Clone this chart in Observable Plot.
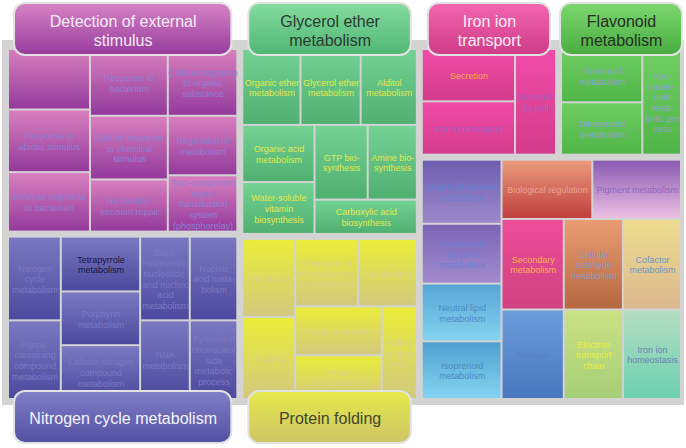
<!DOCTYPE html>
<html><head><meta charset="utf-8">
<script src="https://cdn.jsdelivr.net/npm/d3@7"></script>
<script src="https://cdn.jsdelivr.net/npm/@observablehq/plot@0.6"></script>
<style>body{margin:0;background:#fff}#chart svg{display:block}</style>
</head><body><div id="chart"></div>
<script>
// ---------- data ----------
const detectionLabels = ["", "Response to\nabiotic stimulus", "Defense response\nto bacterium",
  "Response to\nbacterium", "Cellular response\nto chemical\nstimulus", "Nucleotide-\nexcision repair",
  "Cellular response\nto organic\nsubstance", "Regulation of\nmetabolism",
  "Two-component\nsignal\ntransduction\nsystem\n(phosphorelay)"];
const detectionValues = [4582, 4740, 4503, 4800, 4575, 3750, 4288, 3819, 3618];
const detectionTiling = ["h", ["v", 0, 1, 2], ["v", 3, 4, 5], ["v", 6, 7, 8]];

const nitrogenLabels = ["Nitrogen\ncycle\nmetabolism", "Purine-\ncontaining\ncompound\nmetabolism",
  "Tetrapyrrole\nmetabolism", "Porphyrin\nmetabolism", "Cellular nitrogen\ncompound\nmetabolism",
  "Base,\nnucleoside,\nnucleotide,\nand nucleic\nacid\nmetabolism", "RNA\nmetabolism",
  "Nucleic\nacid meta-\nbolism", "Pyrimidine\nribonucleo-\nside\nmetabolic\nprocess"];
const nitrogenValues = [4100, 3850, 4028, 3952, 3952, 3854, 3619, 3690, 3465];
const nitrogenTiling = ["h", ["v", 0, 1], ["v", 2, 3, 4], ["v", 5, 6], ["v", 7, 8]];

const glycerolLabels = ["Organic ether\nmetabolism", "Glycerol ether\nmetabolism", "Alditol\nmetabolism",
  "Organic acid\nmetabolism", "Water-soluble\nvitamin\nbiosynthesis", "GTP bio-\nsynthesis",
  "Amine bio-\nsynthesis", "Carboxylic acid\nbiosynthesis"];
const glycerolValues = [4104, 4248, 3960, 3834, 3479, 3692, 3408, 3264];
const glycerolTiling = ["v", ["h", 0, 1, 2], ["h", ["v", 3, 4], ["v", ["h", 5, 6], 7]]];

const proteinLabels = ["Translation", "Folding", "Response to\nunfolded protein\nas chaperone",
  "Localization", "Protein maturation", "Protein\nbiosynthesis", "Killing\nof other\ncells"];
const proteinValues = [3850, 4050, 3960, 3696, 3948, 3528, 3036];
const proteinTiling = ["h", ["v", 0, 1], ["v", ["h", 2, 3], ["h", ["v", 4, 5], 6]]];

const ironLabels = ["Secretion", "Iron ion transport", "Secretion\nby cell"];
const ironValues = [4664, 4752, 4142];
const ironTiling = ["h", ["v", 0, 1], 2];

const flavonoidLabels = ["Flavonoid\nmetabolism", "Diterpenoid\nmetabolism",
  "Apo-\ncarote-\nnoid\nmeta-\nbolic pro\ncess"];
const flavonoidValues = [4158, 4081, 3924];
const flavonoidTiling = ["h", ["v", 0, 1], 2];

// single-term clusters (no header)
const singleNames = ["Organophosphate catabolism", "Phosphatidylglycerol metabolism", "Neutral lipid metabolism",
  "Isoprenoid metabolism", "Biological regulation", "Pigment metabolism", "Secondary metabolism",
  "Cellular aldehyde metabolism", "Cofactor metabolism", "Nitrogen", "Electron transport chain",
  "Iron ion homeostasis"];
const singleLabels = ["Organophosphate\ncatabolism", "Phosphatidyl\nglycerol\nmetabolism", "Neutral lipid\nmetabolism",
  "Isoprenoid\nmetabolism", "Biological regulation", "Pigment metabolism", "Secondary\nmetabolism",
  "Cellular\naldehyde\nmetabolism", "Cofactor\nmetabolism", "Nitrogen", "Electron\ntransport\nchain",
  "Iron ion\nhomeostasis"];
const singleValues = [4680, 4368, 4212, 4212, 4928, 4816, 5160, 4902, 4816, 5100, 4845, 4760];

const groupNames = ["Detection of external stimulus", "Nitrogen cycle metabolism", "Glycerol ether metabolism",
  "Protein folding", "Iron ion transport", "Flavonoid metabolism"];
const headerLabels = ["Detection of external\nstimulus", "Nitrogen cycle metabolism", "Glycerol ether\nmetabolism",
  "Protein folding", "Iron ion\ntransport", "Flavonoid\nmetabolism"];

// top-level arrangement (g = group index, s = single index)
const topTiling = ["h", ["v", "g0", "g1"], ["v", "g2", "g3"],
  ["v", ["h", "g4", "g5"],
        ["h", ["v", "s0", "s1", "s2", "s3"],
              ["v", ["h", "s4", "s5"], ["h", ["v", "s6", "s9"], ["v", "s7", "s10"], ["v", "s8", "s11"]]]]]];

// ---------- styles ----------
const styles = {
  "Detection of external stimulus": {c: ["#d77fbe", "#953a9c"], t: "#8d80d2", h: ["#d683c4", "#973b9d"], ht: "#f6ecf6"},
  "Nitrogen cycle metabolism": {c: ["#7a78c1", "#4d499e"], t: "#7b79c3", h: ["#807fc7", "#5350a3"], ht: "#f4f4fb"},
  "Glycerol ether metabolism": {c: ["#74d293", "#4fb071"], t: "#e4e84c", h: ["#84db9f", "#50b774"], ht: "#2b3a30"},
  "Protein folding": {c: ["#e9ed38", "#d3c97e"], t: "#d9d488", h: ["#e6ea4a", "#cdc566"], ht: "#45452c"},
  "Iron ion transport": {c: ["#f04ca8", "#d43b8b"], t: "#a460c4", h: ["#f366b0", "#cf3b87"], ht: "#fdeef6"},
  "Flavonoid metabolism": {c: ["#6fce62", "#50b548"], t: "#8ea3cf", h: ["#7cd76e", "#48ad41"], ht: "#262e24"},
  "Organophosphate catabolism": {c: ["#6e5eb0", "#9c88ca"], t: "#6482d2"},
  "Phosphatidylglycerol metabolism": {c: ["#7b64b6", "#a28ccd"], t: "#6a80d2"},
  "Neutral lipid metabolism": {c: ["#57a5d6", "#84d3ef"], t: "#4b8cc4"},
  "Isoprenoid metabolism": {c: ["#4f9fd0", "#84d5f1"], t: "#4b8cc4"},
  "Biological regulation": {c: ["#ea9b7b", "#bf3f40"], t: "#eda393"},
  "Pigment metabolism": {c: ["#8a5ab3", "#ecc0e2"], t: "#8e66c2"},
  "Secondary metabolism": {c: ["#ee4c9a", "#cf4180"], t: "#f7b04c"},
  "Cellular aldehyde metabolism": {c: ["#ea9c73", "#b5683f"], t: "#8d98c2"},
  "Cofactor metabolism": {c: ["#eedd90", "#dbb78f"], t: "#6a98c4"},
  "Nitrogen": {c: ["#6c9dda", "#4976bf"], t: "#5a7fc9"},
  "Electron transport chain": {c: ["#cbe184", "#a6cf77"], t: "#eeee3e"},
  "Iron ion homeostasis": {c: ["#b4ddc3", "#6dd0b0"], t: "#6a80b2"}
};
const textOverride = {"Secretion": "#f7a64a", "Tetrapyrrole\nmetabolism": "#15163a"};
const FONT = "'Liberation Sans', Arial, Helvetica, sans-serif";

// ---------- build hierarchy ----------
const groupDefs = [
  {labels: detectionLabels, values: detectionValues, tiling: detectionTiling},
  {labels: nitrogenLabels, values: nitrogenValues, tiling: nitrogenTiling},
  {labels: glycerolLabels, values: glycerolValues, tiling: glycerolTiling},
  {labels: proteinLabels, values: proteinValues, tiling: proteinTiling},
  {labels: ironLabels, values: ironValues, tiling: ironTiling},
  {labels: flavonoidLabels, values: flavonoidValues, tiling: flavonoidTiling}
].map((g, i) => ({...g, name: groupNames[i], header: headerLabels[i], multi: true}));
const singleDefs = singleNames.map((n, i) => ({name: n, labels: [singleLabels[i]], values: [singleValues[i]], tiling: ["v", 0], multi: false}));

function buildGroup(g) {
  const rec = t => {
    if (typeof t === "number") return {name: g.labels[t], value: g.values[t], group: g.name};
    const [dir, ...kids] = t;
    return {dir, children: kids.map(rec)};
  };
  const node = rec(g.tiling);
  node.isGroup = true; node.multi = g.multi; node.groupName = g.name; node.header = g.header;
  return node;
}
function buildTop(t) {
  if (typeof t === "string") {
    const idx = +t.slice(1);
    return buildGroup(t[0] === "g" ? groupDefs[idx] : singleDefs[idx]);
  }
  const [dir, ...kids] = t;
  return {dir, children: kids.map(buildTop)};
}
const root = d3.hierarchy(buildTop(topTiling)).sum(d => d.value || 0);

const X0 = 9, Y0 = 50, W = 671, H = 348;
d3.treemap()
  .size([W, H])
  .tile((node, x0, y0, x1, y1) => (node.data.dir === "h" ? d3.treemapDice : d3.treemapSlice)(node, x0, y0, x1, y1))
  .paddingInner(node => (!node.data.isGroup && node.descendants().some(n => n.data.isGroup && n.data.multi)) ? 7 : 2)
  (root);
root.each(n => { n.x0 += X0; n.x1 += X0; n.y0 += Y0; n.y1 += Y0; });

const leaves = root.leaves();
const groupNodes = root.descendants().filter(n => n.data.isGroup && n.data.multi);
const headers = groupNodes.map(n => {
  const cx = (n.x0 + n.x1) / 2;
  const w = Math.max(n.x1 - n.x0 - 10, 122);
  const top = n.y0 < Y0 + H / 3;
  return {name: n.data.groupName, label: n.data.header, x1: cx - w / 2, x2: cx + w / 2,
          y1: top ? n.y0 - 47 : n.y1 - 7, y2: top ? n.y0 + 5 : n.y1 + 45};
});
const panel = [{x1: root.x0 - 7, x2: root.x1 + 4, y1: root.y0 - 10, y2: root.y1 + 7}];

const gid = name => "c" + Object.keys(styles).indexOf(name);
const hid = name => "h" + Object.keys(styles).indexOf(name);

const svg = Plot.plot({
  width: 686, height: 448, margin: 0,
  x: {domain: [0, 686], range: [0, 686], axis: null},
  y: {domain: [0, 448], range: [0, 448], axis: null},
  color: {type: "identity"},
  style: {fontFamily: FONT, background: "#fff"},
  marks: [
    Plot.rect(panel, {x1: "x1", x2: "x2", y1: "y1", y2: "y2", fill: "#d3d3d3"}),
    Plot.rect(leaves, {x1: d => d.x0, x2: d => d.x1, y1: d => d.y0, y2: d => d.y1,
      fill: d => `url(#${gid(d.data.group)})`}),
    Plot.text(leaves, {x: d => (d.x0 + d.x1) / 2, y: d => (d.y0 + d.y1) / 2, text: d => d.data.name,
      fill: d => textOverride[d.data.name] || styles[d.data.group].t, fontSize: 9, lineHeight: 1.18,
      fontFamily: FONT}),
    Plot.rect(headers, {x1: "x1", x2: "x2", y1: "y1", y2: "y2", fill: d => `url(#${hid(d.name)})`,
      stroke: "#e2e2e2", strokeWidth: 2, rx: 11}),
    Plot.text(headers, {x: d => (d.x1 + d.x2) / 2, y: d => (d.y1 + d.y2) / 2 + 1, text: "label",
      fill: d => styles[d.name].ht, fontSize: 16, lineHeight: 1.15, fontFamily: FONT})
  ]
});

const defs = d3.select(svg).insert("defs", ":first-child");
function addGrad(id, [a, b]) {
  const g = defs.append("linearGradient").attr("id", id).attr("x1", 0).attr("y1", 0).attr("x2", 0).attr("y2", 1);
  g.append("stop").attr("offset", "0%").attr("stop-color", a);
  g.append("stop").attr("offset", "100%").attr("stop-color", b);
}
for (const [name, s] of Object.entries(styles)) {
  addGrad(gid(name), s.c);
  if (s.h) addGrad(hid(name), s.h);
}
document.getElementById("chart").appendChild(svg);
</script>
</body></html>
